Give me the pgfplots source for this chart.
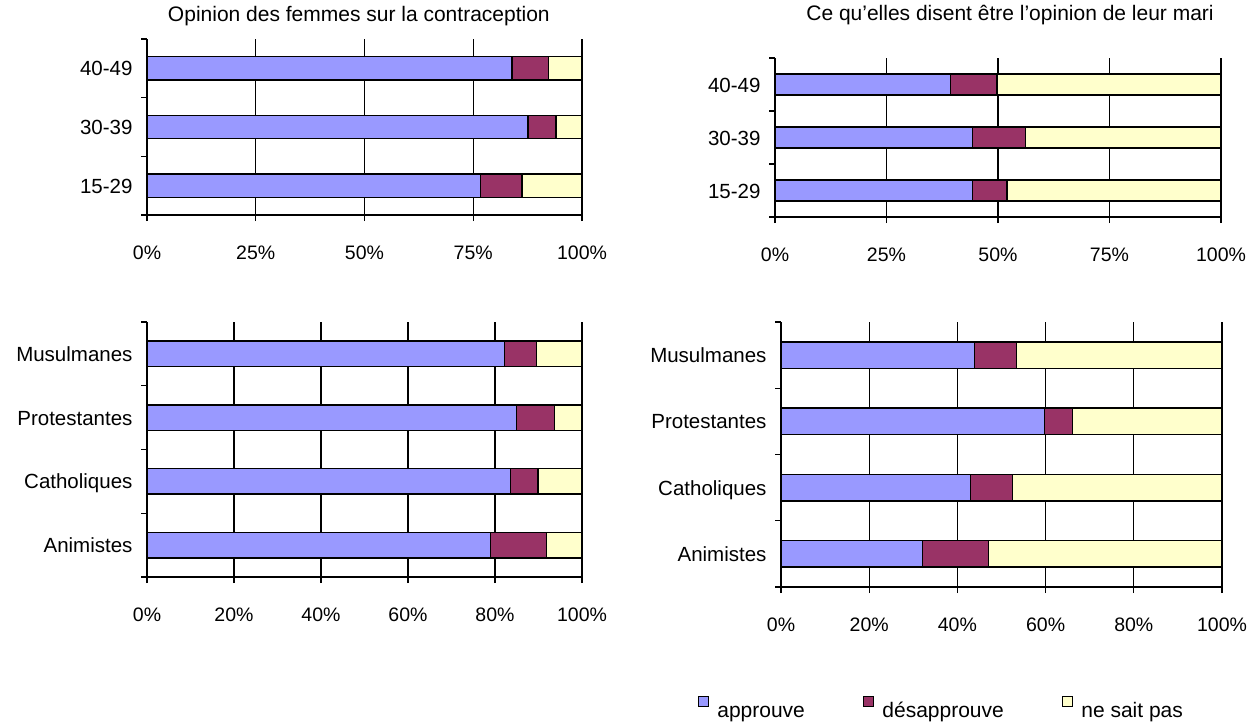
\documentclass[border=0pt]{standalone}
\usepackage{fontspec}
\setmainfont{Liberation Sans}
\usepackage{pgfplots}
\usepackage{pgfplotstable}
\pgfplotsset{compat=1.18}

\definecolor{approuve}{HTML}{9999FF}
\definecolor{desapprouve}{HTML}{993366}
\definecolor{nesaitpas}{HTML}{FFFFCC}

% Opinion des femmes, par groupe d'âge (0 = 15-29 en bas)
\pgfplotstableread{
pos app des nsp
0 76.6 9.6 13.8
1 87.6 6.4 6.0
2 83.9 8.4 7.7
}\femmesage
% Opinion du mari selon elles, par groupe d'âge
\pgfplotstableread{
pos app des nsp
0 44.3 7.7 48.0
1 44.3 11.8 43.9
2 39.4 10.4 50.2
}\mariage
% Opinion des femmes, par religion (0 = Animistes en bas)
\pgfplotstableread{
pos app des nsp
0 79.0 12.8 8.2
1 83.5 6.4 10.1
2 84.9 8.7 6.4
3 82.2 7.3 10.5
}\femmesrel
% Opinion du mari selon elles, par religion
\pgfplotstableread{
pos app des nsp
0 32.1 15.0 52.9
1 43.0 9.5 47.5
2 59.7 6.4 33.9
3 43.8 9.6 46.6
}\marirel

\pgfplotsset{
  panel/.style={
    scale only axis,
    xbar stacked,
    xmin=0, xmax=100,
    axis x line*=bottom,
    axis y line*=left,
    axis line style={black, line width=1.3pt},
    xmajorgrids,
    grid style={black, line width=1.2pt},
    tick align=outside,
    major tick length=6pt,
    tick style={black, line width=1.3pt},
    bar width=0.4,
    x tick label style={font=\fontsize{19.5}{23}\selectfont, yshift=-21pt},
    y tick label style={font=\fontsize{20.5}{24}\selectfont, xshift=-5pt,
      text height=0.716em, text depth=0pt, yshift=-4pt},
    yticklabels={},
    extra y tick style={tick style={draw=none}},
    title style={font=\fontsize{21}{25}\selectfont, anchor=base, yshift=0pt},
    /pgf/number format/assume math mode=true,
    clip=false,
  },
  quarts/.style={xtick={0,25,50,75,100}, xticklabels={0\%,25\%,50\%,75\%,100\%}},
  cinquiemes/.style={xtick={0,20,40,60,80,100}, xticklabels={0\%,20\%,40\%,60\%,80\%,100\%}},
  ages/.style={ymin=-0.5, ymax=2.5, ytick={-0.5,0.5,1.5,2.5},
    extra y ticks={0,1,2}, extra y tick labels={15-29,30-39,40-49}},
  religions/.style={ymin=-0.5, ymax=3.5, ytick={-0.5,0.5,1.5,2.5,3.5},
    extra y ticks={0,1,2,3}, extra y tick labels={Animistes,Catholiques,Protestantes,Musulmanes}},
  barapp/.style={fill=approuve, draw=black, line width=1.3pt},
  bardes/.style={fill=desapprouve, draw=black, line width=1.3pt},
  barnsp/.style={fill=nesaitpas, draw=black, line width=1.3pt},
}

\begin{document}
\begin{tikzpicture}
\useasboundingbox (0,0) rectangle (1256pt,-721pt);

\begin{axis}[panel, quarts, ages,
  at={(147pt,-215pt)}, anchor=south west, width=435pt, height=176pt,
  title={Opinion des femmes sur la contraception},
  title style={at={(0.487,1.068)}}]
  \addplot[barapp] table[x=app, y=pos] {\femmesage};
  \addplot[bardes] table[x=des, y=pos] {\femmesage};
  \addplot[barnsp] table[x=nsp, y=pos] {\femmesage};
\end{axis}

\begin{axis}[panel, quarts, ages,
  at={(775pt,-217pt)}, anchor=south west, width=446pt, height=159pt,
  title={Ce qu'elles disent être l'opinion de leur mari},
  title style={at={(0.527,1.195)}}]
  \addplot[barapp] table[x=app, y=pos] {\mariage};
  \addplot[bardes] table[x=des, y=pos] {\mariage};
  \addplot[barnsp] table[x=nsp, y=pos] {\mariage};
\end{axis}

\begin{axis}[panel, cinquiemes, religions,
  at={(147pt,-577pt)}, anchor=south west, width=435pt, height=255pt]
  \addplot[barapp] table[x=app, y=pos] {\femmesrel};
  \addplot[bardes] table[x=des, y=pos] {\femmesrel};
  \addplot[barnsp] table[x=nsp, y=pos] {\femmesrel};
\end{axis}

\begin{axis}[panel, cinquiemes, religions,
  at={(781pt,-587pt)}, anchor=south west, width=441pt, height=265pt,
  legend columns=3,
  legend image code/.code={\draw[#1, line width=1.5pt] (0pt,6pt) rectangle (10pt,16pt);},
  legend style={at={(-0.189,-0.464)}, anchor=west, draw=none, fill=none,
    inner sep=0pt, font=\fontsize{21}{25}\selectfont,
    nodes={text height=15.5pt, text depth=4.5pt},
    /tikz/every odd column/.append style={column sep=6pt},
    /tikz/every even column/.append style={column sep=56pt}}]
  \addplot[barapp] table[x=app, y=pos] {\marirel};
  \addplot[bardes] table[x=des, y=pos] {\marirel};
  \addplot[barnsp] table[x=nsp, y=pos] {\marirel};
  \legend{approuve, désapprouve, ne sait pas}
\end{axis}
\end{tikzpicture}
\end{document}
